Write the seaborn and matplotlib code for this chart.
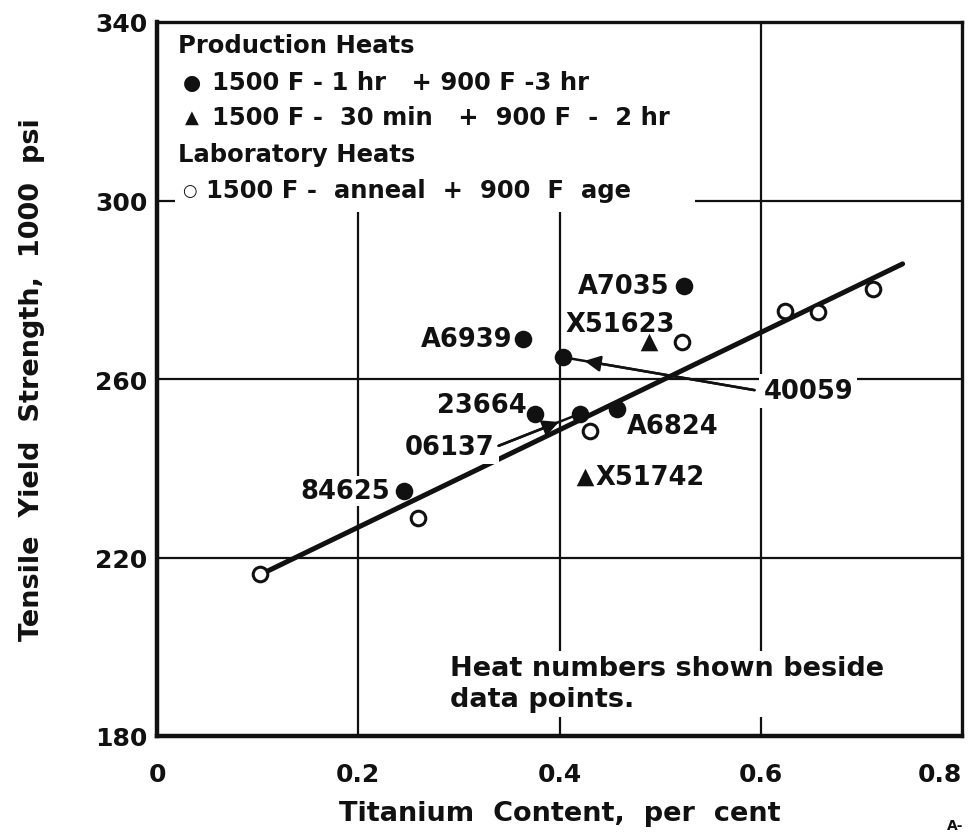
import matplotlib
matplotlib.use("Agg")
import matplotlib.pyplot as plt
import seaborn as sns
import pandas as pd

# ---------------- data ----------------
prod1_x = [0.245, 0.376, 0.420, 0.457, 0.403, 0.364, 0.524]
prod1_y = [234.9, 252.2, 252.2, 253.3, 264.9, 269.0, 280.8]
prod1_ids = ["84625", "23664", "06137", "A6824", "40059", "A6939", "A7035"]

prod2_x = [0.489, 0.425]
prod2_y = [268.3, 238.0]
prod2_ids = ["X51623", "X51742"]

lab_x = [0.102, 0.259, 0.430, 0.522, 0.624, 0.657, 0.712]
lab_y = [216.3, 228.9, 248.3, 268.3, 275.2, 275.0, 280.2]

fit_x = [0.102, 0.741]
fit_y = [216.1, 285.8]

x_ticks = [0, 0.2, 0.4, 0.6, 0.8]
x_ticklabels = ["0", "0.2", "0.4", "0.6", "0.8"]
y_ticks = [180, 220, 260, 300, 340]
y_ticklabels = ["180", "220", "260", "300", "340"]

legend_headers = ["Production Heats", "Laboratory Heats"]
legend_symbols = ["\u25CF", "\u25B2", "\u25CB"]
legend_texts = [
    "1500 F - 1 hr   + 900 F -3 hr",
    "1500 F -  30 min   +  900 F  -  2 hr",
    "1500 F -  anneal  +  900  F  age",
]

# ---------------- style ----------------
sns.set_theme(style="white")
plt.rcParams["font.family"] = ["DejaVu Sans"]
plt.rcParams["font.weight"] = "bold"
plt.rcParams["axes.labelweight"] = "bold"

INK = "#111111"
W, H = 973, 837
fig = plt.figure(figsize=(W / 100, H / 100), dpi=100)
ax = fig.add_axes([157 / W, 1 - 737 / H, (962 - 157) / W, (737 - 23) / H])
ax.set_xlim(0, 0.8)
ax.set_ylim(180, 340)


def axpos(px, py):
    return (px - 157) / 805, (737 - py) / 714


# grid segments
lw_grid = 1.6
ax.vlines([0.2, 0.4], 180, 297.5, color=INK, lw=lw_grid, zorder=1)
ax.vlines([0.6], 180, 340, color=INK, lw=lw_grid, zorder=1)
ax.hlines([300], 0, 0.018, color=INK, lw=lw_grid, zorder=1)
ax.hlines([300], 0.535, 0.8, color=INK, lw=lw_grid, zorder=1)
ax.hlines([260, 220], 0, 0.8, color=INK, lw=lw_grid, zorder=1)

# fit line
sns.lineplot(x=fit_x, y=fit_y, ax=ax, color=INK, lw=3.6, zorder=3)

# points
df1 = pd.DataFrame({"x": prod1_x, "y": prod1_y})
df2 = pd.DataFrame({"x": prod2_x, "y": prod2_y})
df3 = pd.DataFrame({"x": lab_x, "y": lab_y})
sns.scatterplot(data=df1, x="x", y="y", ax=ax, marker="o", s=160,
                color=INK, edgecolor=INK, linewidth=0, zorder=5)
sns.scatterplot(data=df2, x="x", y="y", ax=ax, marker="^", s=160,
                color=INK, edgecolor=INK, linewidth=0, zorder=5)
sns.scatterplot(data=df3, x="x", y="y", ax=ax, marker="o", s=110,
                facecolor="white", edgecolor=INK, linewidth=2.2, zorder=5)

# labels for points (offsets in pixels)
lbl_fs = 18.5
bb = dict(fc="white", ec="none", pad=1.5)
offsets = {
    "84625": (-14, 0, "right"),
    "23664": (-9, 9, "right"),
    "A6939": (-11, 0, "right"),
    "A7035": (-15, 0, "right"),
    "A6824": (10, -17, "left"),
}
for x, y, lab in zip(prod1_x, prod1_y, prod1_ids):
    if lab in offsets:
        dx, dy, ha = offsets[lab]
        ax.annotate(lab, (x, y), xytext=(dx, dy), textcoords="offset pixels",
                    ha=ha, va="center", fontsize=lbl_fs, color=INK,
                    bbox=bb, zorder=4)

# arrowed labels: line to the point plus an arrowhead short of the point
arrow_specs = {"40059": (201, -34, "left"), "06137": (-85, -33, "right")}
for lab, (dx, dy, ha) in arrow_specs.items():
    i = prod1_ids.index(lab)
    xy = (prod1_x[i], prod1_y[i])
    ax.annotate(lab, xy, xytext=(dx, dy), textcoords="offset pixels",
                ha=ha, va="center", fontsize=lbl_fs, color=INK,
                bbox=dict(fc="white", ec="none", pad=3), zorder=4)
    sx = dx - 9 if ha == "left" else dx + 4
    ax.annotate("", xy, xytext=(sx, dy + 1), textcoords="offset pixels", zorder=4,
                arrowprops=dict(arrowstyle="-", color=INK, lw=1.8,
                                shrinkA=0, shrinkB=4))
    ax.annotate("", xy, xytext=(sx, dy + 1), textcoords="offset pixels", zorder=4,
                arrowprops=dict(arrowstyle="-|>", color=INK, lw=1.8,
                                mutation_scale=24, shrinkA=0, shrinkB=16))

tri_off = {"X51623": (-29, 18, "center"), "X51742": (11, 0, "left")}
for x, y, lab in zip(prod2_x, prod2_y, prod2_ids):
    dx, dy, ha = tri_off[lab]
    ax.annotate(lab, (x, y), xytext=(dx, dy), textcoords="offset pixels",
                ha=ha, va="center", fontsize=lbl_fs, color=INK, bbox=bb, zorder=4)

# legend block (text)
leg_fs = 17.5
for (px, py), line in zip([(178, 46), (178, 155)], legend_headers):
    ax.text(*axpos(px, py), line, transform=ax.transAxes, ha="left",
            va="center", fontsize=leg_fs, color=INK, zorder=6)
sym_pos = [(192, 83), (192, 118), (189, 191)]
txt_pos = [(212, 83), (212, 118), (206, 191)]
sym_fs = [15, 13, 12]
for (sx, sy), (tx, ty), sym, txt, sf in zip(sym_pos, txt_pos, legend_symbols,
                                             legend_texts, sym_fs):
    ax.text(*axpos(sx, sy), sym, transform=ax.transAxes, ha="center",
            va="center", fontsize=sf, color=INK, zorder=6)
    ax.text(*axpos(tx, ty), txt, transform=ax.transAxes, ha="left",
            va="center", fontsize=leg_fs, color=INK, zorder=6)

# note
ax.text(*axpos(450, 685), "Heat numbers shown beside\ndata points.",
        transform=ax.transAxes, ha="left", va="center", fontsize=19.5,
        color=INK, linespacing=1.25, bbox=dict(fc="white", ec="none", pad=3),
        zorder=4)

# axes styling
for side in ["left", "bottom"]:
    ax.spines[side].set_linewidth(3.2)
for side in ["top", "right"]:
    ax.spines[side].set_linewidth(2.4)
for s in ax.spines.values():
    s.set_color(INK)
    s.set_zorder(7)

ax.set_xticks(x_ticks)
ax.set_xticklabels(x_ticklabels)
ax.set_yticks(y_ticks)
ax.set_yticklabels(y_ticklabels)
ax.tick_params(axis="both", length=0, labelsize=18, colors=INK)
ax.tick_params(axis="x", pad=19)
ax.tick_params(axis="y", pad=7)
ax.get_xticklabels()[-1].set_horizontalalignment("right")
ax.set_xlabel("Titanium  Content,  per  cent", fontsize=19.5, color=INK,
              labelpad=10)
ax.set_ylabel("Tensile  Yield  Strength,  1000  psi", fontsize=19.5, color=INK,
              labelpad=36)
ax.grid(False)

fig.text(955 / W, 1 - 826 / H, "A-", fontsize=10, color=INK, ha="center", va="center")

fig.savefig("out.png", dpi=100, facecolor="white")
